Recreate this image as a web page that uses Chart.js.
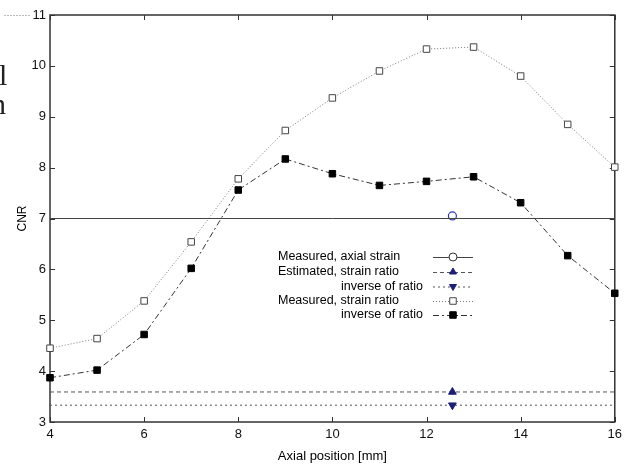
<!DOCTYPE html>
<html>
<head>
<meta charset="utf-8">
<script src="https://cdn.jsdelivr.net/npm/chart.js@4.4.1/dist/chart.umd.min.js"></script>
<style>
  html, body { margin: 0; padding: 0; background: #fff; overflow: hidden; }
  #wrap { position: relative; width: 627px; height: 464px; }
  canvas { position: absolute; left: 0; top: 0; }
  .edge { position: absolute; font-family: "Liberation Serif", serif; font-size: 30px; color: #222; line-height: 1; }
</style>
</head>
<body>
<div id="wrap">
  <canvas id="c" width="627" height="464"></canvas>
  <div class="edge" style="left:-1px; top:60px;">l</div>
  <div class="edge" style="left:-9px; top:89px;">n</div>
</div>
<script>
// ---- data ----
const positions = [4, 5, 6, 7, 8, 9, 10, 11, 12, 13, 14, 15, 16];
const measuredStrainRatio = [4.45, 4.64, 5.38, 6.54, 7.78, 8.73, 9.37, 9.90, 10.33, 10.37, 9.80, 8.85, 8.01];
const measuredInverseRatio = [3.87, 4.02, 4.72, 6.02, 7.56, 8.17, 7.88, 7.65, 7.73, 7.82, 7.31, 6.27, 5.53];
const axialStrainLevel = 7.0;
const axialStrainPoint = { x: 12.55, y: 7.05 };
const estimatedRatioLevel = 3.59;
const estimatedInverseLevel = 3.33;
const markerPosition = 12.55;
const xTicks = [4, 6, 8, 10, 12, 14, 16];
const yTicks = [3, 4, 5, 6, 7, 8, 9, 10, 11];
const legendLabels = ["Measured, axial strain", "Estimated, strain ratio", "inverse of ratio", "Measured, strain ratio", "inverse of ratio"];

const FONT = "'Liberation Sans', Arial, sans-serif";
const xMin = positions[0], xMax = positions[positions.length - 1];

function pairs(xs, ys) { return xs.map((x, i) => ({ x: x, y: ys[i] })); }
function levelLine(y, withMarker) {
  const d = [{ x: xMin, y: y }];
  if (withMarker) d.push({ x: markerPosition, y: y });
  d.push({ x: xMax, y: y });
  return d;
}

const datasets = [
  { label: legendLabels[0], data: levelLine(axialStrainLevel, false), borderColor: '#444', borderWidth: 1, pointRadius: 0, showLine: true },
  { label: legendLabels[0] + ' point', data: [axialStrainPoint], borderColor: '#2b35a8', backgroundColor: '#fff', borderWidth: 1.2, pointRadius: 4, pointStyle: 'circle', showLine: false },
  { label: legendLabels[1], data: levelLine(estimatedRatioLevel, true), borderColor: '#555', borderWidth: 1, borderDash: [4, 3], pointRadius: [0, 4.5, 0], pointStyle: 'triangle', pointBackgroundColor: '#1c1f7a', pointBorderColor: '#1c1f7a', showLine: true },
  { label: legendLabels[2], data: levelLine(estimatedInverseLevel, true), borderColor: '#555', borderWidth: 1, borderDash: [2, 3], pointRadius: [0, 4.5, 0], pointStyle: 'triangle', pointRotation: 180, pointBackgroundColor: '#1c1f7a', pointBorderColor: '#1c1f7a', showLine: true },
  { label: legendLabels[3], data: pairs(positions, measuredStrainRatio), borderColor: '#777', borderWidth: 1, borderDash: [1, 2], pointRadius: 4.6, pointStyle: 'rect', pointBackgroundColor: '#fff', pointBorderColor: '#444', pointBorderWidth: 1, showLine: true, clip: false },
  { label: legendLabels[4], data: pairs(positions, measuredInverseRatio), borderColor: '#333', borderWidth: 1, borderDash: [6, 3, 2, 3], pointRadius: 4.6, pointStyle: 'rect', pointBackgroundColor: '#000', pointBorderColor: '#000', pointBorderWidth: 1, showLine: true, clip: false }
];

const framePlugin = {
  id: 'frame',
  beforeDatasetsDraw(chart) {
    const { ctx, chartArea: a, scales } = chart;
    ctx.save();
    ctx.strokeStyle = '#333';
    ctx.lineWidth = 1.5;
    ctx.strokeRect(a.left, a.top, a.right - a.left, a.bottom - a.top);
    ctx.lineWidth = 1;
    const tl = 5;
    xTicks.forEach(v => {
      const px = Math.round(scales.x.getPixelForValue(v)) + 0.5;
      ctx.beginPath();
      ctx.moveTo(px, a.bottom); ctx.lineTo(px, a.bottom - tl);
      ctx.moveTo(px, a.top); ctx.lineTo(px, a.top + tl);
      ctx.stroke();
    });
    yTicks.forEach(v => {
      const py = Math.round(scales.y.getPixelForValue(v)) + 0.5;
      ctx.beginPath();
      ctx.moveTo(a.left, py); ctx.lineTo(a.left + tl, py);
      ctx.moveTo(a.right, py); ctx.lineTo(a.right - tl, py);
      ctx.stroke();
    });
    // faint scan line left of the top label
    ctx.strokeStyle = '#bbb';
    ctx.setLineDash([2, 1]);
    ctx.beginPath(); ctx.moveTo(4, a.top + 0.5); ctx.lineTo(30, a.top + 0.5); ctx.stroke();
    ctx.restore();
  },
  afterDatasetsDraw(chart) {
    const { ctx } = chart;
    ctx.save();
    // legend
    ctx.font = '12.5px ' + FONT;
    ctx.fillStyle = '#000';
    ctx.textBaseline = 'middle';
    const rows = [257, 272, 286.5, 301, 315];
    const textLeft = 278, textRight = 423;
    const sx0 = 433, sx1 = 473, sxm = 453;
    legendLabels.forEach((lab, i) => {
      if (lab.startsWith('inverse')) { ctx.textAlign = 'right'; ctx.fillText(lab, textRight, rows[i]); }
      else { ctx.textAlign = 'left'; ctx.fillText(lab, textLeft, rows[i]); }
    });
    const styles = [
      { dash: [], color: '#444' },
      { dash: [4, 3], color: '#555' },
      { dash: [2, 3], color: '#555' },
      { dash: [1, 2], color: '#777' },
      { dash: [6, 3, 2, 3], color: '#333' }
    ];
    styles.forEach((s, i) => {
      ctx.save();
      ctx.strokeStyle = s.color; ctx.lineWidth = 1; ctx.setLineDash(s.dash);
      ctx.beginPath(); ctx.moveTo(sx0, rows[i] + 0.5); ctx.lineTo(sx1, rows[i] + 0.5); ctx.stroke();
      ctx.restore();
    });
    const draw = (style, r, fill, stroke, rot, y) => {
      ctx.save();
      ctx.fillStyle = fill; ctx.strokeStyle = stroke; ctx.lineWidth = 1;
      Chart.helpers.drawPoint(ctx, { pointStyle: style, radius: r, rotation: rot, borderWidth: 1 }, sxm, y);
      ctx.restore();
    };
    draw('circle', 4, '#fff', '#333', 0, rows[0]);
    draw('triangle', 4, '#1c1f7a', '#1c1f7a', 0, rows[1]);
    draw('triangle', 4, '#1c1f7a', '#1c1f7a', 180, rows[2]);
    draw('rect', 4.6, '#fff', '#444', 0, rows[3]);
    draw('rect', 4.6, '#000', '#000', 0, rows[4]);
    ctx.restore();
  }
};

new Chart(document.getElementById('c'), {
  type: 'line',
  data: { datasets: datasets },
  options: {
    responsive: false,
    animation: false,
    layout: { padding: { left: 0, right: 10, top: 15, bottom: 0 } },
    plugins: { legend: { display: false }, tooltip: { enabled: false } },
    elements: { line: { tension: 0 } },
    scales: {
      x: {
        type: 'linear', min: xMin, max: xMax,
        afterBuildTicks(scale) { scale.ticks = xTicks.map(v => ({ value: v })); },
        afterFit(scale) { scale.height = 42; },
        grid: { display: false, drawTicks: false },
        border: { display: false },
        ticks: { font: { family: FONT, size: 13 }, color: '#111', padding: 5, maxRotation: 0 },
        title: { display: true, text: 'Axial position [mm]', font: { family: FONT, size: 13 }, color: '#000', padding: { top: 5, bottom: 0 } }
      },
      y: {
        type: 'linear', min: yTicks[0], max: yTicks[yTicks.length - 1],
        afterBuildTicks(scale) { scale.ticks = yTicks.map(v => ({ value: v })); },
        afterFit(scale) { scale.width = 50; },
        grid: { display: false, drawTicks: false },
        border: { display: false },
        ticks: { font: { family: FONT, size: 13 }, color: '#111', padding: 4 },
        title: { display: true, text: 'CNR', font: { family: FONT, size: 12 }, color: '#000', padding: { top: 15, bottom: 0 } }
      }
    }
  },
  plugins: [framePlugin]
});
</script>
</body>
</html>
